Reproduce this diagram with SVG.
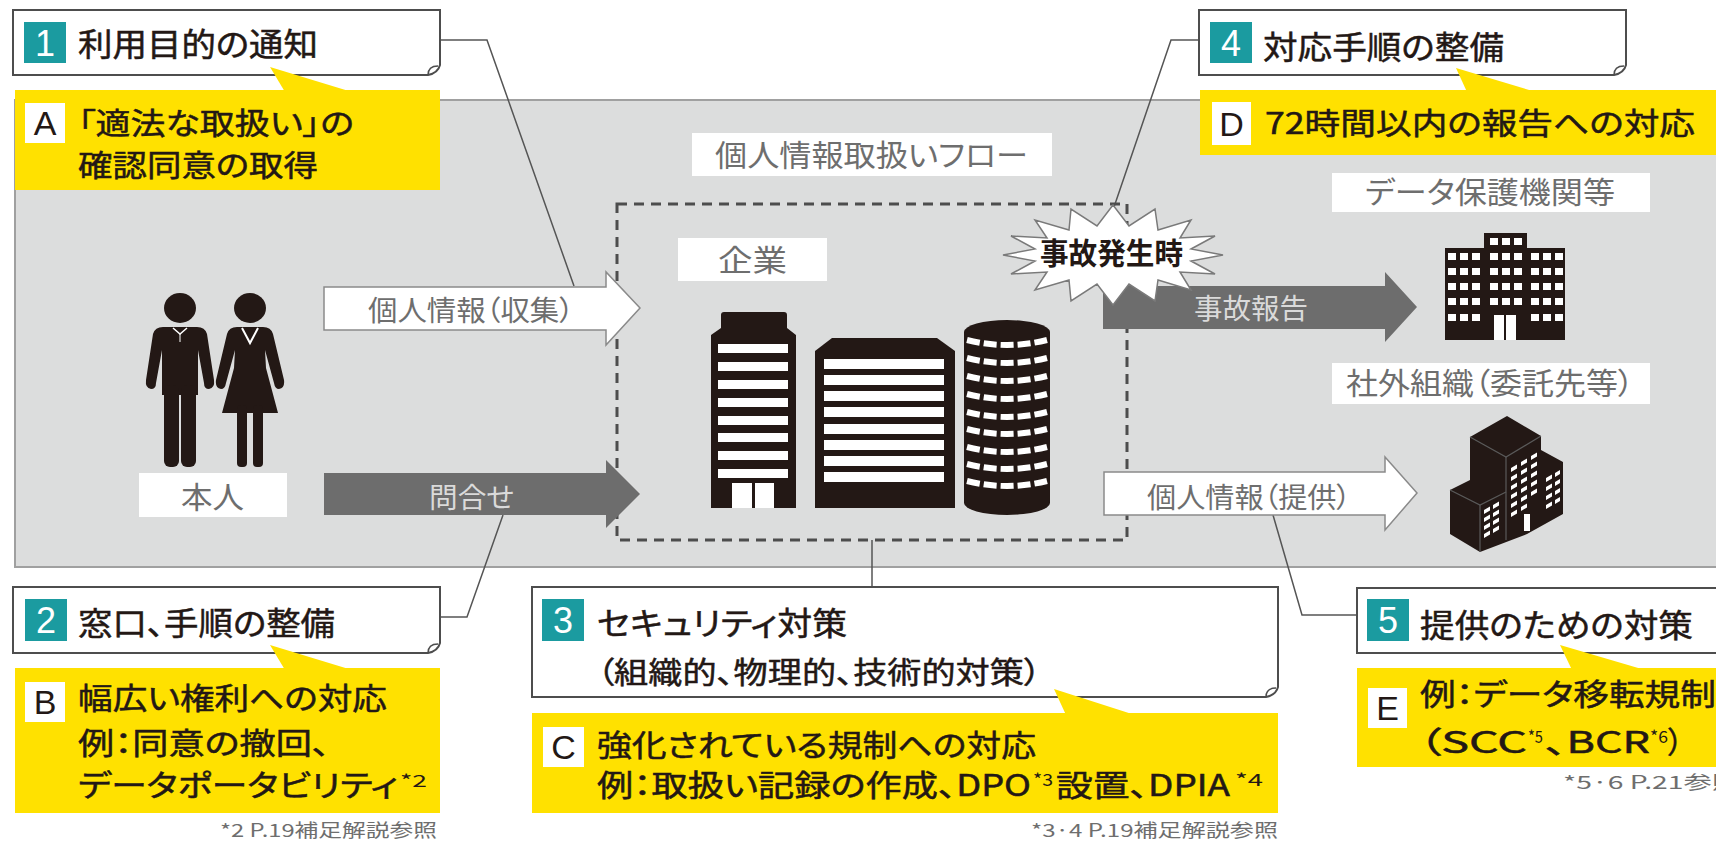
<svg xmlns="http://www.w3.org/2000/svg" width="1716" height="842" viewBox="0 0 1716 842">
  <style>
    .jp{font-family:"Noto Sans CJK JP","Noto Sans",sans-serif;font-feature-settings:"palt"}
    .ttl{font-size:32px;fill:#231815;stroke:#231815;stroke-width:0.5}
    .ylw{font-size:30px;fill:#231815;stroke:#231815;stroke-width:0.5}
    .lbl{font-size:30px;fill:#6e6e6e}
    .arwtxt{font-size:28px}
    .note{font-size:18px;fill:#6e6e6e}
    .sup{font-size:17px;fill:#231815}
    .num{font-family:"Liberation Sans",Arial,sans-serif;font-size:36px;fill:#fff;text-anchor:middle}
    .let{font-family:"Liberation Sans",Arial,sans-serif;font-size:34px;fill:#231815;text-anchor:middle}
    .box{fill:#fff;stroke:#4d4d4d;stroke-width:2}
    .curl{fill:none;stroke:#4d4d4d;stroke-width:1.5}
    .yel{fill:#ffe100}
    .teal{fill:#1b9ba0}
    .sq{fill:#fff}
    .tag{fill:#fff}
    .lead{fill:none;stroke:#555;stroke-width:1.5}
    .dash{fill:none;stroke:#4d4d4d;stroke-width:3;stroke-dasharray:10 7}
    .darrow{fill:#6d6d6d}
    .warrow{fill:#fff;stroke:#8a8a8a;stroke-width:1.5}
    .bld{fill:#231815}
    .win{fill:#fff}
  </style>

  <!-- background panel for the handling flow -->
  <rect id="panel" x="15" y="100" width="1710" height="467" fill="#dcdddd" stroke="#a0a0a0" stroke-width="2"/>

  <!-- leader lines and flow arrows -->
  <g id="connectors">
    <polyline class="lead" points="440,40 487,40 574,286"/>
    <polyline class="lead" points="440,617 467,617 503,515"/>
    <polyline class="lead" points="872,540 872,587"/>
    <polyline class="lead" points="1199,40 1171,40 1114,207"/>
    <polyline class="lead" points="1273,515 1302,615 1357,615"/>
    <rect class="dash" x="617" y="204" width="510" height="336"/>
    <polygon class="warrow" points="324,287 606,287 606,272 640,308 606,345 606,330 324,330"/>
    <polygon class="darrow" points="324,473 606,473 606,460 640,494 606,528 606,515 324,515"/>
    <polygon class="darrow" points="1103,286 1385,286 1385,272 1417,307 1385,342 1385,329 1103,329"/>
    <polygon class="warrow" points="1104,472 1385,472 1385,457 1417,493 1385,530 1385,515 1104,515"/>
    <text class="jp arwtxt" x="368" y="321" fill="#6e6e6e" textLength="206" lengthAdjust="spacingAndGlyphs">個人情報（収集）</text>
    <text class="jp arwtxt" x="429" y="508" fill="#dadada" textLength="85" lengthAdjust="spacingAndGlyphs">問合せ</text>
    <text class="jp arwtxt" x="1194" y="319" fill="#dadada" textLength="114" lengthAdjust="spacingAndGlyphs">事故報告</text>
    <text class="jp arwtxt" x="1147" y="508" fill="#6e6e6e" textLength="204" lengthAdjust="spacingAndGlyphs">個人情報（提供）</text>
  </g>

  <!-- flow title -->
  <g id="flow-title">
    <rect class="tag" x="692" y="133" width="360" height="43"/>
    <text class="jp lbl" x="715" y="166" textLength="313" lengthAdjust="spacingAndGlyphs">個人情報取扱いフロー</text>
  </g>

  <!-- the person -->
  <g id="node-person">
    <g class="bld">
      <ellipse cx="180" cy="308" rx="16" ry="15"/>
      <path d="M163,327 H197 Q205,327 207,334 L214,380 Q215,388 209,389 Q204,389 204,383 L198,350 L198,395 H162 L162,350 L156,383 Q156,389 151,389 Q145,388 146,380 L153,334 Q155,327 163,327 Z"/>
      <rect x="164" y="385" width="15" height="82" rx="6"/>
      <rect x="181" y="385" width="15" height="82" rx="6"/>
      <ellipse cx="250" cy="308" rx="16" ry="15"/>
      <path d="M237,327 H263 Q271,327 273,334 L284,380 Q285,388 279,389 Q275,389 274,383 L265,350 L266,368 L278,413 H222 L234,368 L235,350 L226,383 Q225,389 221,389 Q215,388 216,380 L227,334 Q229,327 237,327 Z"/>
      <rect x="237" y="405" width="10" height="62" rx="4"/>
      <rect x="253" y="405" width="10" height="62" rx="4"/>
    </g>
    <path d="M173,328 L180,334 L187,328" fill="none" stroke="#fff" stroke-width="1.5"/>
    <path d="M180,334 V342" stroke="#fff" stroke-width="1"/>
    <path d="M242,328 L250,343 L258,328" fill="none" stroke="#fff" stroke-width="2"/>
    <rect class="tag" x="139" y="473" width="148" height="44"/>
    <text class="jp lbl" x="181" y="508" textLength="63" lengthAdjust="spacingAndGlyphs">本人</text>
  </g>

  <!-- the company -->
  <g id="node-company">
    <rect class="tag" x="678" y="238" width="149" height="43"/>
    <text class="jp lbl" x="718" y="271" textLength="69" lengthAdjust="spacingAndGlyphs">企業</text>
    <path class="bld" d="M711,508 V335 L721,328 V315 Q721,312 724,312 H784 Q787,312 787,315 V328 L796,335 V508 Z"/>
    <g class="win">
      <rect x="718" y="344" width="70" height="9"/>
      <rect x="718" y="362" width="70" height="9"/>
      <rect x="718" y="380" width="70" height="9"/>
      <rect x="718" y="398" width="70" height="9"/>
      <rect x="718" y="416" width="70" height="9"/>
      <rect x="718" y="433" width="70" height="9"/>
      <rect x="718" y="451" width="70" height="9"/>
      <rect x="718" y="469" width="70" height="9"/>
      <rect x="732" y="483" width="20" height="25"/>
      <rect x="755" y="483" width="19" height="25"/>
    </g>
    <path class="bld" d="M815,508 V351 L832,338 H937 L955,351 V508 Z"/>
    <g class="win">
      <rect x="824" y="359" width="120" height="10"/>
      <rect x="824" y="375" width="120" height="10"/>
      <rect x="824" y="391" width="120" height="10"/>
      <rect x="824" y="407" width="120" height="10"/>
      <rect x="824" y="424" width="120" height="10"/>
      <rect x="824" y="440" width="120" height="10"/>
      <rect x="824" y="456" width="120" height="10"/>
      <rect x="824" y="472" width="120" height="10"/>
    </g>
    <path class="bld" d="M964,332 A43,12 0 0 1 1050,332 V503 A43,12 0 0 1 964,503 Z"/>
    <g fill="none" stroke="#fff" stroke-width="6" stroke-dasharray="13 4">
      <path d="M967,340 Q1007,350 1047,340"/>
      <path d="M967,358 Q1007,368 1047,358"/>
      <path d="M967,376 Q1007,386 1047,376"/>
      <path d="M967,394 Q1007,404 1047,394"/>
      <path d="M967,412 Q1007,422 1047,412"/>
      <path d="M967,429 Q1007,439 1047,429"/>
      <path d="M967,447 Q1007,457 1047,447"/>
      <path d="M967,464 Q1007,474 1047,464"/>
      <path d="M967,481 Q1007,491 1047,481"/>
    </g>
  </g>

  <!-- incident burst -->
  <g id="node-incident">
    <polygon fill="#fff" stroke="#7a7a7a" stroke-width="1.5" points="1223,255 1191,261 1215,274 1180,272 1191,290 1158,280 1155,301 1129,284 1113,305 1097,284 1071,301 1069,280 1035,290 1047,272 1011,274 1035,261 1003,255 1035,249 1011,236 1047,238 1035,220 1069,230 1071,209 1097,226 1113,205 1129,226 1155,209 1158,230 1191,220 1180,238 1215,236 1191,249"/>
    <text class="jp" x="1040" y="264" font-size="30" font-weight="bold" fill="#231815" textLength="143" lengthAdjust="spacingAndGlyphs">事故発生時</text>
  </g>

  <!-- data protection authority -->
  <g id="node-authority">
    <rect class="tag" x="1332" y="173" width="318" height="39"/>
    <text class="jp lbl" x="1365" y="203" textLength="250" lengthAdjust="spacingAndGlyphs">データ保護機関等</text>
    <rect class="bld" x="1484" y="233" width="43" height="107"/>
    <rect class="bld" x="1445" y="248" width="120" height="92"/>
    <g class="win">
      <rect x="1490" y="238" width="8" height="7"/><rect x="1502" y="238" width="8" height="7"/><rect x="1514" y="238" width="8" height="7"/>
      <rect x="1448" y="253" width="8" height="7"/><rect x="1460" y="253" width="8" height="7"/><rect x="1472" y="253" width="8" height="7"/>
      <rect x="1490" y="253" width="8" height="7"/><rect x="1502" y="253" width="8" height="7"/><rect x="1514" y="253" width="8" height="7"/>
      <rect x="1531" y="253" width="8" height="7"/><rect x="1543" y="253" width="8" height="7"/><rect x="1555" y="253" width="8" height="7"/>
      <rect x="1448" y="268" width="8" height="7"/><rect x="1460" y="268" width="8" height="7"/><rect x="1472" y="268" width="8" height="7"/>
      <rect x="1490" y="268" width="8" height="7"/><rect x="1502" y="268" width="8" height="7"/><rect x="1514" y="268" width="8" height="7"/>
      <rect x="1531" y="268" width="8" height="7"/><rect x="1543" y="268" width="8" height="7"/><rect x="1555" y="268" width="8" height="7"/>
      <rect x="1448" y="283" width="8" height="7"/><rect x="1460" y="283" width="8" height="7"/><rect x="1472" y="283" width="8" height="7"/>
      <rect x="1490" y="283" width="8" height="7"/><rect x="1502" y="283" width="8" height="7"/><rect x="1514" y="283" width="8" height="7"/>
      <rect x="1531" y="283" width="8" height="7"/><rect x="1543" y="283" width="8" height="7"/><rect x="1555" y="283" width="8" height="7"/>
      <rect x="1448" y="298" width="8" height="7"/><rect x="1460" y="298" width="8" height="7"/><rect x="1472" y="298" width="8" height="7"/>
      <rect x="1490" y="298" width="8" height="7"/><rect x="1502" y="298" width="8" height="7"/><rect x="1514" y="298" width="8" height="7"/>
      <rect x="1531" y="298" width="8" height="7"/><rect x="1543" y="298" width="8" height="7"/><rect x="1555" y="298" width="8" height="7"/>
      <rect x="1448" y="314" width="8" height="7"/><rect x="1460" y="314" width="8" height="7"/><rect x="1472" y="314" width="8" height="7"/>
      <rect x="1531" y="314" width="8" height="7"/><rect x="1543" y="314" width="8" height="7"/><rect x="1555" y="314" width="8" height="7"/>
      <rect x="1494" y="315" width="10" height="25"/><rect x="1506" y="315" width="10" height="25"/>
    </g>
  </g>

  <!-- outside organisation -->
  <g id="node-outside">
    <rect class="tag" x="1332" y="363" width="318" height="41"/>
    <text class="jp lbl" x="1346" y="394" textLength="288" lengthAdjust="spacingAndGlyphs">社外組織（委託先等）</text>
    <polygon class="bld" points="1507,416 1541,436 1541,450 1563,462 1563,514 1527,534 1480,552 1450,534 1450,490 1470,480 1470,437"/>
    <g fill="none" stroke="#5a5a5a" stroke-width="1.2">
      <polyline points="1470,437 1506,457 1541,436"/>
      <line x1="1506" y1="457" x2="1506" y2="540"/>
      <polyline points="1450,490 1480,505 1506,492"/>
      <line x1="1480" y1="505" x2="1480" y2="552"/>
    </g>
    <g class="win">
      <path d="M1511,468 l6,-3.6 v4 l-6,3.6z M1521,462 l6,-3.6 v4 l-6,3.6z M1531,456 l6,-3.6 v4 l-6,3.6z"/>
      <path d="M1511,477 l6,-3.6 v4 l-6,3.6z M1521,471 l6,-3.6 v4 l-6,3.6z M1531,465 l6,-3.6 v4 l-6,3.6z"/>
      <path d="M1511,486 l6,-3.6 v4 l-6,3.6z M1521,480 l6,-3.6 v4 l-6,3.6z M1531,474 l6,-3.6 v4 l-6,3.6z"/>
      <path d="M1511,495 l6,-3.6 v4 l-6,3.6z M1521,489 l6,-3.6 v4 l-6,3.6z M1531,483 l6,-3.6 v4 l-6,3.6z"/>
      <path d="M1511,504 l6,-3.6 v4 l-6,3.6z M1521,498 l6,-3.6 v4 l-6,3.6z M1531,492 l6,-3.6 v4 l-6,3.6z"/>
      <path d="M1511,513 l6,-3.6 v4 l-6,3.6z M1521,507 l6,-3.6 v4 l-6,3.6z"/>
      <path d="M1546,478 l6,-3.4 v4 l-6,3.4z M1555,473 l5,-3 v4 l-5,3z"/>
      <path d="M1546,487 l6,-3.4 v4 l-6,3.4z M1555,482 l5,-3 v4 l-5,3z"/>
      <path d="M1546,496 l6,-3.4 v4 l-6,3.4z M1555,491 l5,-3 v4 l-5,3z"/>
      <path d="M1546,505 l6,-3.4 v4 l-6,3.4z M1555,500 l5,-3 v4 l-5,3z"/>
      <path d="M1484,510 l6,-3.4 v4 l-6,3.4z M1493,505 l6,-3.4 v4 l-6,3.4z"/>
      <path d="M1484,518 l6,-3.4 v4 l-6,3.4z M1493,513 l6,-3.4 v4 l-6,3.4z"/>
      <path d="M1484,526 l6,-3.4 v4 l-6,3.4z M1493,521 l6,-3.4 v4 l-6,3.4z"/>
      <path d="M1484,534 l6,-3.4 v4 l-6,3.4z M1493,529 l6,-3.4 v4 l-6,3.4z"/>
      <rect x="1524" y="514" width="6" height="17"/>
    </g>
  </g>

  <!-- 1: notice of purpose -->
  <g id="node-1">
    <path class="box" d="M13,10 H440 V65 Q438,73 428,75 H13 Z"/>
    <path class="curl" d="M428,75 Q428,66 438,66"/>
    <rect class="teal" x="24" y="22" width="42" height="41"/>
    <text class="num" x="45" y="56">1</text>
    <text class="jp ttl" x="78" y="56" textLength="240" lengthAdjust="spacingAndGlyphs">利用目的の通知</text>
  </g>
  <g id="node-A">
    <rect class="yel" x="15" y="90" width="425" height="100"/>
    <polygon class="yel" points="270,67 285,92 352,92"/>
    <rect class="sq" x="25" y="103" width="40" height="40"/>
    <text class="let" x="45" y="135">A</text>
    <text class="jp ylw" x="78" y="134" textLength="276" lengthAdjust="spacingAndGlyphs">「適法な取扱い」の</text>
    <text class="jp ylw" x="78" y="176" textLength="240" lengthAdjust="spacingAndGlyphs">確認同意の取得</text>
  </g>

  <!-- 2: contact point -->
  <g id="node-2">
    <path class="box" d="M13,587 H440 V643 Q438,651 428,653 H13 Z"/>
    <path class="curl" d="M428,653 Q428,644 438,644"/>
    <rect class="teal" x="25" y="599" width="42" height="42"/>
    <text class="num" x="46" y="633">2</text>
    <text class="jp ttl" x="78" y="635" textLength="257" lengthAdjust="spacingAndGlyphs">窓口、手順の整備</text>
  </g>
  <g id="node-B">
    <rect class="yel" x="15" y="668" width="425" height="145"/>
    <polygon class="yel" points="270,645 285,670 352,670"/>
    <rect class="sq" x="25" y="682" width="40" height="40"/>
    <text class="let" x="45" y="714">B</text>
    <text class="jp ylw" x="78" y="709" textLength="309" lengthAdjust="spacingAndGlyphs">幅広い権利への対応</text>
    <text class="jp ylw" x="78" y="754" textLength="252" lengthAdjust="spacingAndGlyphs">例：同意の撤回、</text>
    <text class="jp ylw" x="78" y="796" textLength="320" lengthAdjust="spacingAndGlyphs">データポータビリティ</text>
    <text class="jp sup" x="400" y="787" textLength="27" lengthAdjust="spacingAndGlyphs">*2</text>
    <text class="jp note" x="220" y="837" textLength="217" lengthAdjust="spacingAndGlyphs">*2 P.19補足解説参照</text>
  </g>

  <!-- 3: security measures -->
  <g id="node-3">
    <path class="box" d="M532,587 H1278 V687 Q1276,695 1266,697 H532 Z"/>
    <path class="curl" d="M1266,697 Q1266,688 1276,688"/>
    <rect class="teal" x="542" y="599" width="42" height="42"/>
    <text class="num" x="563" y="633">3</text>
    <text class="jp ttl" x="597" y="635" textLength="250" lengthAdjust="spacingAndGlyphs">セキュリティ対策</text>
    <text class="jp ylw" x="597" y="683" textLength="444" lengthAdjust="spacingAndGlyphs">（組織的、物理的、技術的対策）</text>
  </g>
  <g id="node-C">
    <rect class="yel" x="532" y="713" width="746" height="100"/>
    <polygon class="yel" points="1054,689 1066,715 1135,715"/>
    <rect class="sq" x="543" y="727" width="41" height="40"/>
    <text class="let" x="563.5" y="759">C</text>
    <text class="jp ylw" x="597" y="756" textLength="439" lengthAdjust="spacingAndGlyphs">強化されている規制への対応</text>
    <text class="jp ylw" x="597" y="796" textLength="434" lengthAdjust="spacingAndGlyphs">例：取扱い記録の作成、DPO</text>
    <text class="jp sup" x="1033" y="786" textLength="20" lengthAdjust="spacingAndGlyphs">*3</text>
    <text class="jp ylw" x="1056" y="796" textLength="174" lengthAdjust="spacingAndGlyphs">設置、DPIA</text>
    <text class="jp sup" x="1235" y="786" textLength="28" lengthAdjust="spacingAndGlyphs">*4</text>
    <text class="jp note" x="1031" y="837" textLength="247" lengthAdjust="spacingAndGlyphs">*3·4 P.19補足解説参照</text>
  </g>

  <!-- 4: incident procedures -->
  <g id="node-4">
    <path class="box" d="M1199,10 H1626 V65 Q1624,73 1614,75 H1199 Z"/>
    <path class="curl" d="M1614,75 Q1614,66 1624,66"/>
    <rect class="teal" x="1210" y="22" width="42" height="41"/>
    <text class="num" x="1231" y="56">4</text>
    <text class="jp ttl" x="1263" y="59" textLength="241" lengthAdjust="spacingAndGlyphs">対応手順の整備</text>
  </g>
  <g id="node-D">
    <rect class="yel" x="1200" y="90" width="520" height="65"/>
    <polygon class="yel" points="1456,68 1467,92 1536,92"/>
    <rect class="sq" x="1212" y="102" width="39" height="43"/>
    <text class="let" x="1231.5" y="136">D</text>
    <text class="jp ylw" x="1265" y="134" textLength="430" lengthAdjust="spacingAndGlyphs">72時間以内の報告への対応</text>
  </g>

  <!-- 5: measures for provision -->
  <g id="node-5">
    <path class="box" d="M1357,588 H1730 V653 H1357 Z"/>
    <rect class="teal" x="1367" y="599" width="42" height="42"/>
    <text class="num" x="1388" y="633">5</text>
    <text class="jp ttl" x="1420" y="637" textLength="273" lengthAdjust="spacingAndGlyphs">提供のための対策</text>
  </g>
  <g id="node-E">
    <rect class="yel" x="1357" y="668" width="370" height="99"/>
    <polygon class="yel" points="1560,645 1572,670 1645,670"/>
    <rect class="sq" x="1368" y="688" width="39" height="40"/>
    <text class="let" x="1387.5" y="720">E</text>
    <text class="jp ylw" x="1420" y="705" textLength="296" lengthAdjust="spacingAndGlyphs">例：データ移転規制</text>
    <text class="jp ylw" x="1418" y="753" textLength="109" lengthAdjust="spacingAndGlyphs">（SCC</text>
    <text class="jp sup" x="1528" y="743" textLength="15" lengthAdjust="spacingAndGlyphs">*5</text>
    <text class="jp ylw" x="1545" y="753" textLength="105" lengthAdjust="spacingAndGlyphs">、BCR</text>
    <text class="jp sup" x="1650" y="743" textLength="18" lengthAdjust="spacingAndGlyphs">*6</text>
    <text class="jp ylw" x="1668" y="753" textLength="15" lengthAdjust="spacingAndGlyphs">）</text>
    <text class="jp note" x="1563" y="789" textLength="177" lengthAdjust="spacingAndGlyphs">*5·6 P.21参照</text>
  </g>
</svg>
